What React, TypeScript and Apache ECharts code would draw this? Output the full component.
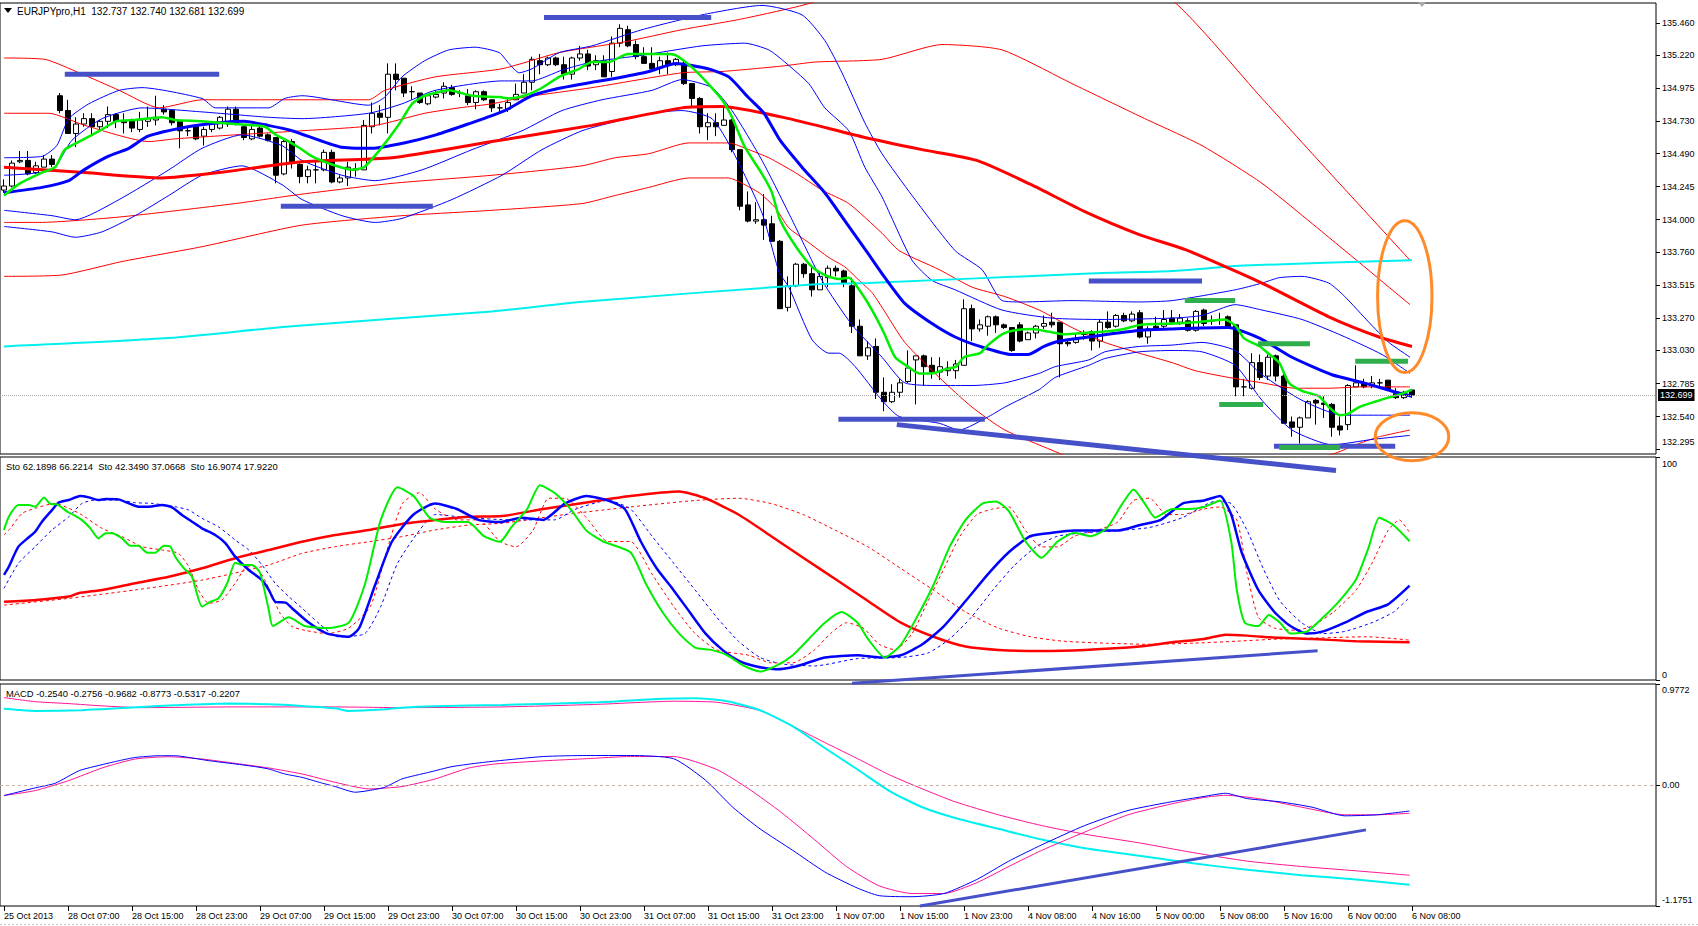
import React, { useEffect, useRef } from 'react';
import * as echarts from 'echarts';

// ---------- axes / labels ----------
const SLOTS = 207;
const dateLabels = ['25 Oct 2013', '28 Oct 07:00', '28 Oct 15:00', '28 Oct 23:00', '29 Oct 07:00', '29 Oct 15:00', '29 Oct 23:00', '30 Oct 07:00', '30 Oct 15:00', '30 Oct 23:00', '31 Oct 07:00', '31 Oct 15:00', '31 Oct 23:00', '1 Nov 07:00', '1 Nov 15:00', '1 Nov 23:00', '4 Nov 08:00', '4 Nov 16:00', '5 Nov 00:00', '5 Nov 08:00', '5 Nov 16:00', '6 Nov 00:00', '6 Nov 08:00'];
const priceTicks = [132.295, 132.54, 132.785, 133.03, 133.27, 133.515, 133.76, 134.0, 134.245, 134.49, 134.73, 134.975, 135.22, 135.46];
const stochTicks = [0, 100];
const macdTicks = [-1.1751, 0, 0.9772];
const bidPrice = 132.699;
const headerText = 'EURJPYpro,H1  132.737 132.740 132.681 132.699';
const stochText = 'Sto 62.1898 66.2214  Sto 42.3490 37.0668  Sto 16.9074 17.9220';
const macdText = 'MACD -0.2540 -0.2756 -0.9682 -0.8773 -0.5317 -0.2207';

// ---------- candles [open, high, low, close] ----------
const ohlc = [
  [134.22, 134.30, 134.20, 134.25], [134.25, 134.44, 134.24, 134.42], [134.43, 134.51, 134.42, 134.44], [134.44, 134.51, 134.33, 134.34],
  [134.35, 134.43, 134.34, 134.40], [134.39, 134.48, 134.39, 134.45], [134.45, 134.48, 134.39, 134.41], [134.92, 134.94, 134.79, 134.81],
  [134.81, 134.89, 134.64, 134.64], [134.64, 134.76, 134.54, 134.71], [134.71, 134.79, 134.69, 134.75], [134.75, 134.79, 134.62, 134.69],
  [134.69, 134.74, 134.66, 134.73], [134.73, 134.84, 134.68, 134.78], [134.78, 134.79, 134.68, 134.73], [134.73, 134.79, 134.64, 134.72],
  [134.74, 134.75, 134.65, 134.68], [134.67, 134.80, 134.65, 134.74], [134.73, 134.84, 134.69, 134.75], [134.74, 134.92, 134.70, 134.76],
  [134.82, 134.85, 134.78, 134.80], [134.81, 134.81, 134.70, 134.72], [134.73, 134.73, 134.53, 134.66], [134.66, 134.69, 134.62, 134.66],
  [134.69, 134.70, 134.59, 134.60], [134.62, 134.69, 134.55, 134.67], [134.67, 134.73, 134.65, 134.72], [134.68, 134.77, 134.67, 134.76],
  [134.71, 134.84, 134.69, 134.82], [134.82, 134.84, 134.70, 134.71], [134.69, 134.70, 134.59, 134.61], [134.60, 134.70, 134.59, 134.67],
  [134.68, 134.69, 134.61, 134.62], [134.63, 134.64, 134.58, 134.59], [134.61, 134.61, 134.27, 134.33], [134.34, 134.59, 134.33, 134.58],
  [134.58, 134.60, 134.38, 134.42], [134.41, 134.43, 134.27, 134.32], [134.32, 134.40, 134.27, 134.37], [134.37, 134.44, 134.27, 134.37],
  [134.37, 134.52, 134.36, 134.50], [134.50, 134.52, 134.27, 134.28], [134.28, 134.33, 134.27, 134.31], [134.31, 134.43, 134.25, 134.39],
  [134.37, 134.42, 134.32, 134.38], [134.37, 134.74, 134.37, 134.70], [134.69, 134.87, 134.64, 134.79], [134.79, 134.85, 134.70, 134.76],
  [134.76, 135.16, 134.64, 135.08], [135.08, 135.16, 134.96, 135.04], [135.05, 135.05, 134.91, 134.94], [134.95, 134.99, 134.89, 134.95],
  [134.94, 134.94, 134.86, 134.87], [134.86, 134.93, 134.85, 134.92], [134.91, 134.96, 134.90, 134.93], [134.94, 135.02, 134.90, 134.99],
  [134.98, 135.00, 134.92, 134.93], [134.94, 134.96, 134.91, 134.94], [134.92, 134.97, 134.85, 134.87], [134.87, 134.96, 134.82, 134.95],
  [134.95, 134.96, 134.88, 134.89], [134.89, 134.89, 134.80, 134.83], [134.83, 134.86, 134.80, 134.83], [134.82, 134.91, 134.80, 134.87],
  [134.89, 135.01, 134.89, 134.93], [134.94, 135.08, 134.94, 135.02], [135.02, 135.21, 134.96, 135.19], [135.18, 135.23, 135.08, 135.15],
  [135.15, 135.21, 135.14, 135.20], [135.20, 135.21, 135.14, 135.15], [135.15, 135.21, 135.04, 135.08], [135.08, 135.21, 135.04, 135.20],
  [135.20, 135.29, 135.18, 135.23], [135.23, 135.26, 135.11, 135.14], [135.15, 135.22, 135.11, 135.18], [135.18, 135.22, 135.06, 135.06],
  [135.10, 135.36, 135.06, 135.31], [135.31, 135.45, 135.28, 135.42], [135.41, 135.44, 135.28, 135.29], [135.30, 135.33, 135.19, 135.21],
  [135.21, 135.28, 135.16, 135.16], [135.16, 135.28, 135.11, 135.12], [135.13, 135.21, 135.08, 135.18], [135.18, 135.24, 135.08, 135.15],
  [135.15, 135.20, 135.14, 135.19], [135.16, 135.18, 135.00, 135.01], [135.01, 135.01, 134.84, 134.90], [134.90, 134.91, 134.64, 134.69],
  [134.69, 134.79, 134.59, 134.72], [134.72, 134.79, 134.62, 134.69], [134.70, 134.83, 134.70, 134.74], [134.74, 134.75, 134.50, 134.52],
  [134.52, 134.52, 134.07, 134.10], [134.11, 134.21, 133.98, 133.99], [133.99, 134.13, 133.97, 134.00], [134.00, 134.19, 133.85, 133.96],
  [133.97, 134.03, 133.84, 133.84], [133.84, 133.85, 133.34, 133.34], [133.35, 133.58, 133.32, 133.51], [133.51, 133.68, 133.50, 133.67],
  [133.67, 133.68, 133.57, 133.60], [133.60, 133.65, 133.43, 133.48], [133.48, 133.61, 133.48, 133.58], [133.57, 133.66, 133.50, 133.64],
  [133.64, 133.66, 133.58, 133.62], [133.62, 133.63, 133.50, 133.53], [133.51, 133.57, 133.16, 133.21], [133.21, 133.26, 132.99, 132.99],
  [132.99, 133.10, 132.96, 133.05], [133.06, 133.12, 132.67, 132.72], [132.72, 132.83, 132.58, 132.65], [132.65, 132.78, 132.64, 132.72],
  [132.72, 132.82, 132.68, 132.79], [132.80, 133.03, 132.79, 132.90], [132.96, 132.99, 132.63, 132.99], [132.99, 133.00, 132.77, 132.91],
  [132.92, 132.98, 132.82, 132.87], [132.87, 132.98, 132.81, 132.91], [132.88, 132.95, 132.84, 132.90], [132.88, 132.96, 132.82, 132.93],
  [132.92, 133.41, 132.92, 133.34], [133.34, 133.37, 133.10, 133.19], [133.19, 133.26, 133.17, 133.22], [133.21, 133.29, 133.14, 133.28],
  [133.28, 133.29, 133.16, 133.22], [133.22, 133.23, 133.19, 133.20], [133.20, 133.20, 133.02, 133.03], [133.22, 133.24, 133.09, 133.10],
  [133.11, 133.17, 133.11, 133.16], [133.16, 133.22, 133.12, 133.21], [133.21, 133.29, 133.19, 133.23], [133.24, 133.31, 133.20, 133.22],
  [133.24, 133.24, 132.83, 133.08], [133.09, 133.10, 133.06, 133.08], [133.09, 133.16, 133.08, 133.11], [133.15, 133.18, 133.11, 133.15],
  [133.17, 133.18, 133.03, 133.10], [133.10, 133.26, 133.05, 133.24], [133.24, 133.32, 133.19, 133.20], [133.21, 133.30, 133.20, 133.29],
  [133.29, 133.31, 133.24, 133.25], [133.25, 133.32, 133.24, 133.30], [133.31, 133.33, 133.12, 133.13], [133.13, 133.21, 133.08, 133.19],
  [133.21, 133.28, 133.18, 133.19], [133.21, 133.33, 133.19, 133.26], [133.27, 133.33, 133.22, 133.24], [133.24, 133.30, 133.22, 133.27],
  [133.25, 133.27, 133.17, 133.18], [133.18, 133.33, 133.17, 133.32], [133.33, 133.34, 133.21, 133.23], [133.25, 133.29, 133.22, 133.25],
  [133.26, 133.31, 133.22, 133.26], [133.28, 133.29, 133.20, 133.20], [133.22, 133.22, 132.69, 132.76], [132.76, 132.82, 132.69, 132.76],
  [132.75, 133.01, 132.74, 132.94], [132.94, 133.00, 132.81, 132.83], [132.84, 133.00, 132.81, 132.98], [132.99, 133.00, 132.80, 132.84],
  [132.84, 132.86, 132.49, 132.49], [132.50, 132.54, 132.39, 132.46], [132.46, 132.54, 132.34, 132.53], [132.53, 132.66, 132.53, 132.65],
  [132.66, 132.67, 132.48, 132.64], [132.64, 132.69, 132.53, 132.63], [132.63, 132.64, 132.39, 132.46], [132.47, 132.54, 132.40, 132.44],
  [132.48, 132.78, 132.44, 132.77], [132.76, 132.92, 132.76, 132.79], [132.79, 132.82, 132.75, 132.76], [132.77, 132.84, 132.75, 132.79],
  [132.79, 132.82, 132.76, 132.79], [132.81, 132.81, 132.73, 132.74], [132.71, 132.75, 132.67, 132.68], [132.68, 132.73, 132.67, 132.72],
  [132.737, 132.740, 132.681, 132.699],
];

// ---------- price-panel indicator lines [barIndex, price] ----------
const maGreen = [[0,134.18],[2,134.27],[4.75,134.35],[6.4,134.39],[7.6,134.52],[9.75,134.59],[12.25,134.67],[14,134.73],[16.4,134.74],[19.75,134.76],[21.4,134.74],[24.75,134.73],[28.9,134.71],[32.6,134.69],[34,134.63],[35.6,134.58],[37,134.53],[38.5,134.47],[41,134.41],[43.5,134.37],[45,134.39],[47,134.52],[49.4,134.71],[51,134.86],[52.6,134.92],[55.6,134.96],[58.5,134.92],[62,134.91],[63,134.90],[65,134.92],[67,134.97],[69.4,135.06],[71.9,135.12],[73.5,135.17],[75.6,135.17],[78,135.23],[82.6,135.23],[84,135.22],[86,135.13],[88,135.01],[89.75,134.89],[91,134.76],[92.6,134.54],[94.75,134.34],[96,134.20],[97,134.00],[99,133.80],[101,133.65],[102.6,133.59],[104.4,133.56],[105.6,133.57],[106.9,133.48],[108.5,133.33],[110,133.16],[111.4,132.98],[113,132.91],[114.4,132.86],[116,132.86],[117.6,132.89],[119,132.91],[120,132.98],[122,133.01],[123,133.07],[124.75,133.15],[126.4,133.18],[128.5,133.19],[130.6,133.17],[132.6,133.15],[135,133.16],[137.6,133.17],[140,133.19],[142,133.22],[146,133.23],[149,133.24],[152.6,133.26],[154,133.21],[155,133.12],[157,133.06],[158,133.01],[159.4,132.94],[160.6,132.79],[162.25,132.73],[164.4,132.69],[165.6,132.61],[167,132.55],[168,132.56],[169.4,132.61],[171.4,132.65],[173,132.68],[174.75,132.71],[176,132.74]];
const maBlue = [[0,134.20],[4.75,134.24],[8.1,134.29],[10,134.37],[13,134.47],[15.6,134.53],[18,134.62],[23,134.69],[27,134.72],[30,134.73],[33,134.70],[36,134.66],[42,134.54],[46,134.53],[50,134.57],[54,134.63],[58,134.71],[62.6,134.81],[66,134.92],[69,134.97],[73.5,135.02],[75.6,135.04],[80.6,135.10],[84,135.16],[88,135.12],[90.6,135.06],[93,134.91],[95,134.79],[97,134.59],[99.75,134.39],[102.6,134.20],[105.6,133.95],[108,133.75],[110,133.58],[112.6,133.38],[116,133.23],[118.9,133.13],[122,133.06],[126,133.00],[128,133.00],[130,133.06],[132,133.10],[135.6,133.13],[142,133.18],[146,133.19],[153,133.20],[157,133.12],[161,132.98],[166,132.85],[170,132.79],[174,132.72],[176,132.69]];
const maRed = [[0,134.39],[10.1,134.35],[19.75,134.31],[26.9,134.35],[37.25,134.43],[48.5,134.46],[61,134.58],[73.5,134.70],[84.75,134.83],[89.75,134.84],[98.1,134.75],[107.6,134.61],[114.75,134.52],[121.6,134.44],[128.4,134.26],[135.1,134.06],[141.9,133.89],[147.6,133.78],[157.25,133.53],[165.6,133.28],[171.9,133.13],[176,133.06]];
const maCyan = [[0,133.06],[20,133.12],[36,133.21],[61,133.32],[72,133.39],[101,133.52],[108,133.53],[135,133.60],[146,133.62],[155,133.66],[176,133.70]];
const redUp2 = [[0,135.20],[5.1,135.19],[9.4,135.09],[14.4,134.96],[19.4,134.83],[24.75,134.89],[45.6,134.89],[47.6,134.96],[53.9,135.06],[62.25,135.12],[69.4,135.24],[77.6,135.32],[84.75,135.41],[92.25,135.49],[99.75,135.59],[106,135.70],[120,135.95],[135,135.95],[146,135.63],[157.25,134.90],[166,134.33],[175.75,133.70]];
const redUp1 = [[0,134.79],[5.6,134.79],[10.1,134.70],[18.1,134.58],[21.4,134.60],[28.9,134.63],[37.25,134.66],[46.4,134.70],[52.6,134.79],[56.9,134.83],[61,134.86],[65.1,134.91],[73.5,134.98],[84.75,135.09],[89.75,135.10],[97.25,135.14],[101.4,135.17],[109.75,135.19],[117.25,135.30],[124.75,135.26],[133.5,135.01],[142.25,134.76],[149.75,134.55],[157.25,134.27],[166,133.85],[175.75,133.37]];
const redLo1 = [[0,133.98],[4.4,133.98],[14.4,134.02],[28.9,134.12],[37.25,134.19],[48.5,134.27],[61,134.33],[72.25,134.40],[76.4,134.46],[80.6,134.49],[85.6,134.57],[90.6,134.57],[93.1,134.52],[95.6,134.46],[98.9,134.35],[102.25,134.22],[105.6,134.12],[109.75,133.90],[111.9,133.77],[116.9,133.63],[121,133.50],[125.1,133.43],[129.4,133.33],[133.5,133.20],[137.6,133.09],[141.9,133.01],[146,132.94],[148.9,132.88],[153.1,132.83],[157.25,132.79],[161.4,132.75],[165.6,132.75],[169.75,132.76],[175.75,132.76]];
const redLo2 = [[0,133.58],[7.25,133.59],[14.75,133.69],[24.75,133.80],[37.25,133.96],[49.75,134.03],[61,134.07],[72.25,134.12],[76.4,134.18],[80.6,134.24],[85.6,134.31],[90.6,134.31],[92.25,134.27],[94.4,134.20],[96.4,134.09],[98.1,133.94],[100.6,133.83],[103.1,133.72],[105.1,133.65],[106.9,133.55],[108.5,133.46],[109.75,133.35],[112.6,133.09],[116.9,132.83],[121,132.61],[125.1,132.44],[131,132.29],[137.25,132.14],[146,132.00],[157.25,132.16],[166,132.26],[169.4,132.34],[171.9,132.39],[175.75,132.44]];
const blueUp2 = [[0,134.46],[4.75,134.47],[6.6,134.55],[8.1,134.75],[10.6,134.86],[14.4,134.96],[17.25,134.98],[24.75,134.90],[26.4,134.83],[33.1,134.83],[35.1,134.90],[37.25,134.92],[45.6,134.85],[47.6,134.91],[49.75,135.06],[52.6,135.18],[55.6,135.26],[58.9,135.28],[61.9,135.24],[63.1,135.16],[64.4,135.09],[66,135.12],[69.4,135.24],[73.5,135.29],[79.75,135.41],[87.25,135.52],[94.75,135.59],[99.75,135.52],[102.6,135.33],[104.75,135.09],[107.6,134.72],[109.75,134.49],[113.5,134.18],[118.9,133.77],[122.25,133.63],[124.75,133.40],[127.25,133.39],[133.5,133.40],[141.9,133.39],[146,133.40],[153.9,133.48],[157.25,133.53],[159.4,133.57],[162.25,133.58],[165.6,133.53],[167.6,133.43],[170.6,133.24],[173.1,133.09],[175.75,132.98]];
const blueUp1 = [[0,134.33],[6,134.37],[8.5,134.59],[12.25,134.75],[17.25,134.83],[24.75,134.80],[33.1,134.76],[37.25,134.75],[45.6,134.79],[49.75,134.86],[53.9,134.96],[62.25,135.03],[66,135.03],[69.75,135.11],[73.5,135.17],[79.75,135.22],[87.25,135.29],[92.6,135.31],[95.6,135.26],[97.6,135.17],[100.6,135.01],[102.6,134.83],[105.6,134.66],[107.6,134.39],[109.75,134.17],[113.5,133.70],[116,133.55],[118.9,133.48],[124.75,133.33],[131,133.27],[137.25,133.26],[146,133.27],[149.75,133.29],[153.9,133.37],[157.25,133.33],[162.25,133.26],[167.25,133.14],[172.25,133.00],[175.75,132.86]];
const blueLo1 = [[0,134.07],[6,134.03],[8.9,134.00],[14.4,134.15],[20.6,134.37],[24.75,134.53],[29.75,134.63],[34.75,134.55],[37.25,134.44],[42.25,134.33],[46.4,134.29],[52.25,134.37],[58.5,134.52],[64.75,134.66],[69.75,134.81],[74.75,134.89],[81,134.96],[84.75,135.04],[88.5,134.98],[91,134.81],[94.75,134.44],[98.5,134.00],[102.25,133.55],[106,133.22],[109.75,132.98],[112.6,132.79],[116.9,132.77],[121,132.77],[125.1,132.79],[129.4,132.86],[131.4,132.91],[135.6,132.96],[137.6,133.02],[141.9,133.06],[146,133.07],[149.75,133.09],[153.9,133.03],[157.25,132.85],[162.25,132.66],[167.25,132.55],[172.25,132.55],[175.75,132.55]];
const blueLo2 = [[0,133.95],[6,133.91],[8.9,133.87],[12.25,133.91],[16.4,134.03],[20.6,134.18],[24.75,134.33],[29.75,134.40],[34.75,134.26],[37.25,134.15],[42.25,134.03],[46.4,133.98],[49.75,134.01],[56,134.15],[62.25,134.33],[67.25,134.52],[72.25,134.66],[77.25,134.74],[82.25,134.80],[84.75,134.81],[88.5,134.75],[91,134.52],[94.75,134.05],[96.9,133.61],[98.1,133.50],[101,133.11],[103.1,133.01],[104.4,133.01],[106.4,132.91],[109.75,132.66],[111.9,132.54],[116.9,132.49],[119.4,132.44],[123.1,132.54],[125.1,132.61],[129.4,132.74],[131.4,132.83],[135.6,132.92],[137.6,132.97],[141.9,133.02],[146,133.03],[149.75,133.02],[153.9,132.92],[157.25,132.66],[161,132.44],[166,132.33],[171,132.37],[175.75,132.40]];

// ---------- stochastic panel [barIndex, value] ----------
const stoGreen = [[0,67.3],[0.6,73.2],[1.8,78.5],[3.1,78.5],[3.9,77.7],[5,81.8],[5.8,78.9],[6.6,78.8],[7.9,75.5],[8.7,74],[9.75,71.7],[10.8,68],[11.8,63.5],[12.7,65.8],[13.5,65.8],[14.75,63.5],[15.8,60.2],[16.8,60.2],[17.9,57.1],[18.9,57.1],[20,60.2],[20.8,59.8],[21.4,55.3],[22.5,50.1],[23.5,46.3],[24.75,32.9],[25.8,35.1],[26.8,36.6],[27.9,43.4],[28.9,52.6],[29.75,51.6],[31,51.6],[32,48.1],[33.1,31.4],[33.6,24.2],[35.6,28.1],[37.6,24.2],[40.4,23.3],[43.1,25.7],[45.1,42.7],[47.1,71.8],[49.2,86.4],[51.2,82.5],[53.2,72.8],[55.2,70.8],[58,70.8],[60,64.5],[62,62],[63.4,68.4],[65.4,76.7],[67,87.3],[68.8,84],[70.8,76.7],[72.8,67],[74.9,62.1],[78.3,57.3],[80.3,42.7],[82.3,30.5],[84.4,20.8],[86.4,14.5],[88.4,13.5],[90.4,11.1],[92.5,6.3],[94.5,3.8],[96.5,6.3],[98.6,11.1],[100.6,18.4],[102.6,25.7],[104.7,30.5],[106.7,25.7],[108,18.4],[110.1,10.1],[112.1,15.8],[114.1,28.1],[116.2,42.7],[118.2,59.7],[120.2,71.8],[122.3,79.1],[124,80.1],[125.6,75.7],[127.7,62.1],[129.7,54.8],[131.7,62.1],[133.8,66],[135.8,64.5],[137.8,67.9],[139.8,79.1],[141.2,85.4],[142.6,79.1],[143.9,72.8],[146,76.7],[148,76.7],[150,77.6],[152,80.5],[153.4,62.1],[154.1,40.3],[155.1,25.7],[156.8,24.2],[158.1,29.1],[159.5,25.7],[160.8,20.8],[162.9,21.8],[164.9,28.1],[166.9,35.4],[169,45.1],[170.6,59.7],[171.9,72.8],[173.7,69.4],[175.7,62.2]];
const stoGreenSig = [[0,65],[0.8,68],[2.25,74.7],[3.9,77],[6.4,79.2],[8.1,77],[9.75,74],[12.25,68],[14.75,64.3],[17.25,59.8],[19.75,58.3],[21.8,56.8],[23.1,50.8],[24.3,40.4],[25.6,34.4],[27.25,35.9],[28.9,43.4],[30.4,50.8],[31.4,50.8],[32.7,44.2],[34.5,30],[36,24],[37.6,22.3],[40.4,20.8],[43.1,23.3],[45.8,33],[47.8,57.3],[49.8,79.1],[51.9,84],[53.9,76.7],[56.6,71.8],[59.3,71.8],[62,62.1],[64,59.7],[66.1,67],[68.1,81.5],[70.1,81.5],[72.8,72.8],[75.5,62.1],[78.3,62.1],[81,47.5],[83.7,33],[86.4,20.8],[89.1,13.5],[93.1,11.1],[95.9,7.7],[98.6,7.7],[101.3,13.5],[103.3,20.8],[105.3,25.7],[107.4,23.3],[109.4,16],[111.4,13.5],[113.5,20.8],[115.5,35.4],[117.5,50],[119.5,64.5],[121.6,74.2],[123.6,76.7],[125.6,77.6],[127.7,67],[129.7,59.7],[131.7,59.7],[133.8,64.5],[136.5,67],[139.2,70.8],[141.2,80.5],[143.2,81.5],[145.3,74.2],[147.3,74.2],[150,76.7],[152,77.6],[154.1,71.8],[155.4,47.5],[156.8,28.1],[158.8,23.3],[161.5,22.3],[163.5,24.2],[166.2,30.5],[169,40.3],[171,52.4],[173,67],[174.4,71.8],[175.7,66.2]];
const stoBlue = [[0,47.1],[0.6,50.8],[1.8,59.8],[3.1,64],[3.9,66.5],[4.75,71],[6,76.2],[6.8,79.5],[8.1,80.7],[9.5,82.5],[10.6,81.9],[11.8,80.7],[12.7,81.2],[14.3,81],[15.6,79.2],[16.8,77.7],[18.1,77.7],[19.75,78.5],[21,77.4],[22.25,74],[23.5,71],[24.75,68],[26.4,65],[27.7,61.3],[28.9,55.3],[30.6,49.3],[32.25,44.8],[33.1,40.4],[33.9,35.1],[35.2,34.7],[36,32.2],[38,26],[40.4,20.8],[43.1,19.4],[44.4,23.3],[46.4,42.7],[48.5,62.1],[51.2,74.2],[53.9,79.1],[56.6,76.7],[59.3,71.8],[62,70.8],[64.7,72.8],[67.4,71.8],[70.1,79.1],[72.8,82.5],[75.5,80.5],[77.6,76.7],[79.6,62.1],[81.6,50],[83.7,40.3],[85.7,30.5],[87.7,20.8],[89.8,13.5],[91.8,8.7],[93.8,6.3],[96.5,4.8],[99.2,6.3],[102.6,10.1],[106.7,11.1],[109.4,10.1],[112.1,11.1],[114.8,16],[117.5,24.2],[120.2,35.4],[123,47.5],[125.6,57.3],[128.3,64.5],[131,66],[133.8,67],[136.5,67],[139.2,67],[141.9,69.4],[144.6,71.8],[147.3,79.1],[150,80.5],[152,82.5],[153.4,74.2],[154.7,57.3],[156.8,40.3],[158.8,30.5],[160.8,24.2],[162.9,20.8],[164.9,21.8],[167.6,25.7],[170.3,30.5],[173,33.9],[175.7,42.3]];
const stoBlueSig = [[0,41.1],[1.8,52.3],[3.9,59.8],[6,67.3],[8.1,73.2],[9.75,79.2],[11.4,80.7],[14.3,80.7],[16.4,79.5],[18.5,79.2],[21.4,77.7],[23.1,76.2],[24.75,72.5],[26.8,68.7],[28.9,62.8],[30.6,58.3],[32.25,51.6],[33.9,43.4],[35.6,37.4],[37.25,32.2],[39.5,25],[41.7,19.4],[45.1,20.8],[47.1,33],[49.2,52.4],[51.9,67],[53.9,74.2],[58,72.8],[63.4,71.8],[68.8,71.8],[71.5,76.7],[75.5,80.5],[78.3,76.7],[81,64.5],[83.7,52.4],[86.4,40.3],[89.1,28.1],[91.8,17.4],[94.5,10.1],[97.2,7.2],[101.3,6.3],[106.7,9.6],[112.1,10.1],[115.5,12.1],[118.2,18.4],[120.9,28.1],[123.6,40.3],[126.3,51.4],[129,59.7],[131.7,64.5],[135.1,66],[139.2,67],[143.2,68.4],[147.3,72.8],[151.4,80.1],[153.4,79.1],[155.4,67],[157.4,50],[159.5,35.4],[162.2,25.7],[164.9,20.8],[167.6,21.8],[171,25.7],[173.7,30.5],[175.7,37.1]];
const stoRed = [[0,35.1],[4,35.9],[8.1,37.4],[9.3,38.9],[12.25,40.4],[16.4,43.4],[20.6,46.3],[24.75,50.1],[28.9,54.6],[33.1,58.3],[37.25,62],[41.4,65],[45.6,67.3],[49.75,70],[53.9,71.7],[58.1,73.2],[62.25,73.5],[67.4,76.7],[72.8,79.6],[78.3,82.5],[84.4,84.5],[87.7,81.5],[91.8,74.2],[95.9,64.5],[99.9,54.8],[104,45.1],[108,35.4],[112.1,25.7],[116.2,19.4],[120.2,15],[124.3,13.5],[129.7,13],[135.1,13.5],[141.9,15],[146,16.9],[150,18.4],[152.7,20.3],[155.4,19.9],[159.5,18.9],[163.5,18.4],[169,17.4],[175.7,16.9]];
const stoRedSig = [[0,33.6],[8.1,36.6],[16.4,40.4],[24.75,44.8],[33.1,51.6],[37.25,56.8],[41.4,59.8],[45.6,62],[49.75,64.3],[53.9,67.3],[58.1,69.5],[62.25,70.3],[70.1,74.2],[78.3,77.6],[86.4,80.5],[91.8,81.5],[95.9,79.1],[99.9,74.2],[104,67],[108,59.7],[112.1,50],[116.2,40.3],[120.2,30.5],[124.3,23.3],[128.3,19.4],[132.4,17.4],[137.8,16.5],[143.2,16],[148.6,16.5],[154.1,17.4],[159.5,18.4],[164.9,18.9],[170.3,19.4],[175.7,17.9]];

// ---------- MACD panel [barIndex, value] ----------
const macdCyan = [[0,0.738],[1.8,0.726],[3.9,0.716],[9.75,0.723],[12.25,0.733],[17.25,0.755],[21.4,0.771],[28.1,0.787],[33.1,0.781],[37.25,0.765],[41.4,0.742],[43.1,0.716],[47.25,0.729],[49.75,0.748],[53.9,0.762],[62.25,0.774],[74.2,0.80],[81,0.83],[86.4,0.84],[90.4,0.81],[94.5,0.723],[98.6,0.567],[102.6,0.357],[106.7,0.148],[110.7,-0.061],[114.8,-0.218],[118.9,-0.322],[124.3,-0.427],[129.7,-0.531],[135.1,-0.615],[141.9,-0.688],[148.6,-0.761],[155.4,-0.824],[162.2,-0.876],[169,-0.918],[175.7,-0.968]];
const macdPink2 = [[0,0.845],[3.9,0.806],[8.1,0.787],[12.25,0.765],[17.25,0.748],[28.9,0.755],[41.4,0.755],[49.75,0.748],[62.25,0.755],[74.2,0.78],[83.7,0.81],[89.1,0.80],[94.5,0.72],[98.6,0.567],[102.6,0.410],[106.7,0.253],[110.7,0.096],[114.8,-0.040],[118.9,-0.165],[124.3,-0.291],[129.7,-0.395],[135.1,-0.479],[141.9,-0.563],[148.6,-0.657],[155.4,-0.740],[162.2,-0.792],[169,-0.834],[175.7,-0.877]];
const macdBlue = [[0,-0.104],[3.9,-0.03],[6.4,0.015],[9.4,0.137],[12.25,0.195],[14.4,0.234],[16.4,0.265],[19.4,0.282],[21.4,0.282],[23.1,0.265],[25.6,0.234],[28.9,0.202],[31.4,0.176],[33.1,0.153],[35.1,0.105],[37.25,0.072],[39.4,0.024],[41.4,-0.017],[43.9,-0.072],[45.6,-0.056],[47.6,-0.024],[49.75,0.057],[53.1,0.121],[56,0.176],[58.9,0.208],[61.4,0.23],[67.4,0.274],[72.8,0.284],[78.3,0.284],[83.7,0.253],[87.7,0.044],[91.1,-0.218],[94.5,-0.427],[98.6,-0.636],[102.6,-0.845],[106.7,-1.002],[109.4,-1.075],[113.5,-1.085],[117.5,-1.054],[121.6,-0.918],[125.6,-0.740],[129.7,-0.583],[135.1,-0.395],[140.5,-0.249],[145.9,-0.165],[150,-0.113],[152.7,-0.082],[155.4,-0.134],[159.5,-0.165],[163.5,-0.217],[167.6,-0.301],[171.6,-0.291],[175.7,-0.254]];
const macdPink = [[0,-0.104],[3.9,-0.056],[8.1,0.041],[12.25,0.163],[16.4,0.25],[20.6,0.272],[24.75,0.25],[28.9,0.208],[33.1,0.163],[37.25,0.105],[41.4,0.024],[45.6,-0.04],[49.75,-0.017],[53.9,0.057],[58.1,0.163],[61.4,0.202],[67.4,0.232],[72.8,0.253],[78.3,0.274],[83.7,0.274],[89.1,0.148],[93.1,-0.040],[97.2,-0.270],[101.3,-0.531],[105.3,-0.792],[109.4,-0.980],[113.5,-1.054],[117.5,-1.054],[121.6,-0.949],[125.6,-0.792],[129.7,-0.636],[135.1,-0.458],[140.5,-0.291],[145.9,-0.186],[150,-0.123],[152.7,-0.102],[156.8,-0.134],[162.2,-0.217],[167.6,-0.291],[171.6,-0.291],[175.7,-0.276]];

// ---------- hand-drawn objects ----------
const blueSegments = [
  [[7.6,135.08],[26.9,135.08]],
  [[67.5,135.50],[88.4,135.50]],
  [[34.6,134.10],[53.6,134.10]],
  [[104.3,132.52],[122.6,132.52]],
  [[111.6,132.48],[166.5,132.14]],
  [[135.6,133.545],[149.75,133.545]],
  [[158.75,132.32],[173.9,132.32]],
];
const greenSegments = [
  [[147.6,133.40],[153.9,133.40]],
  [[156.75,133.08],[163.25,133.08]],
  [[151.9,132.63],[157.4,132.63]],
  [[168.9,132.95],[175.5,132.95]],
  [[159.4,132.31],[167,132.31]],
];
const stochTrend = [[106,-1.5],[164.2,13.1]];
const macdTrend = [[114.5,-1.176],[170.25,-0.437]];
// ellipses: centre bar, centre price, half-width (bars), half-height (price)
const ellipses = [
  { i: 175.1, p: 133.43, di: 3.4, dp: 0.563 },
  { i: 176.0, p: 132.39, di: 4.6, dp: 0.178 },
];

const FONT = 'Liberation Sans';
const cats = Array.from({ length: SLOTS }, (_, k) => String(k));

function line(data: number[][], xi: number, yi: number, color: string, width: number, extra: any = {}) {
  return {
    type: 'line', xAxisIndex: xi, yAxisIndex: yi, data, symbol: 'none', showSymbol: false,
    smooth: 0.2, lineStyle: { color, width, ...(extra.lineStyle || {}) }, silent: true, z: extra.z ?? 3,
    clip: extra.clip ?? true,
  };
}

export default function App() {
  const ref = useRef<HTMLDivElement>(null);
  useEffect(() => {
    const chart = echarts.init(ref.current!, null, { renderer: 'svg' });
    const labelBase = { fontFamily: FONT, fontSize: 9, color: '#000' };
    const grids = [
      { left: 0, right: 42, top: 3, height: 451 },
      { left: 0, right: 42, top: 457, height: 223 },
      { left: 0, right: 42, top: 684, height: 222 },
    ].map((g) => ({ ...g, show: true, borderColor: '#000', borderWidth: 1, backgroundColor: 'transparent' }));
    const hiddenVal = (gi: number) => ({ type: 'value', gridIndex: gi, min: -0.5, max: SLOTS - 0.5, show: false });
    const yCommon = {
      position: 'right', splitLine: { show: false }, axisLine: { show: false, onZero: false },
      axisTick: { show: true, length: 4, lineStyle: { color: '#000' } },
    };
    const rich = {
      up7: { ...labelBase, padding: [14, 0, 0, 0] },
      up6: { ...labelBase, padding: [12, 0, 0, 0] },
      dn5: { ...labelBase, padding: [0, 0, 10, 0] },
      dn6: { ...labelBase, padding: [0, 0, 12, 0] },
      dn8: { ...labelBase, padding: [0, 0, 15, 0] },
    };
    const series: any[] = [];
    series.push({
      type: 'candlestick', xAxisIndex: 0, yAxisIndex: 0, barWidth: 5, silent: true, z: 2,
      data: ohlc.map((r) => [r[0], r[3], r[2], r[1]]),
      itemStyle: { color: '#ffffff', color0: '#000000', borderColor: '#000000', borderColor0: '#000000', borderWidth: 1 },
      markLine: {
        silent: true, symbol: ['none', 'none'], animation: false,
        data: [{ yAxis: bidPrice }],
        lineStyle: { color: '#a8a8a8', type: 'dotted', width: 1 },
        label: { show: true, position: 'end', distance: 2, formatter: bidPrice.toFixed(3), backgroundColor: '#000', color: '#fff', fontFamily: FONT, fontSize: 9, padding: [2, 2, 1, 2] },
      },
    });
    // thin bands
    [redUp2, redUp1, redLo1, redLo2].forEach((d) => series.push(line(d, 1, 0, '#ff0000', 1)));
    [blueUp2, blueUp1, blueLo1, blueLo2].forEach((d) => series.push(line(d, 1, 0, '#0000ff', 1)));
    series.push(line(maCyan, 1, 0, '#00f0f0', 2));
    series.push(line(maRed, 1, 0, '#ff0000', 3));
    series.push(line(maBlue, 1, 0, '#0000ff', 3));
    series.push(line(maGreen, 1, 0, '#00ee00', 2.5));
    blueSegments.forEach((d) => series.push({ ...line(d, 1, 0, '#4650c8', 5, { z: 6, clip: false }), smooth: false }));
    greenSegments.forEach((d) => series.push({ ...line(d, 1, 0, '#2fae4e', 5, { z: 6 }), smooth: false }));
    // stochastic
    series.push(line(stoRedSig, 2, 1, '#ff0000', 1, { lineStyle: { type: [3, 3] } }));
    series.push(line(stoBlueSig, 2, 1, '#0000ff', 1, { lineStyle: { type: [3, 3] } }));
    series.push(line(stoGreenSig, 2, 1, '#ff0000', 1, { lineStyle: { type: [3, 3] } }));
    series.push(line(stoRed, 2, 1, '#ff0000', 2.5));
    series.push(line(stoBlue, 2, 1, '#0000ff', 2.5));
    series.push(line(stoGreen, 2, 1, '#00ee00', 2));
    series.push({ ...line(stochTrend, 2, 1, '#4650c8', 3, { z: 6, clip: false }), smooth: false });
    // MACD
    series.push({
      ...line(macdPink2, 3, 2, '#ff1493', 1),
      markLine: {
        silent: true, symbol: ['none', 'none'], animation: false, label: { show: false },
        data: [{ yAxis: 0 }], lineStyle: { color: '#c8aea4', type: [3, 3], width: 1 },
      },
    });
    series.push(line(macdCyan, 3, 2, '#00f0f0', 2));
    series.push(line(macdPink, 3, 2, '#ff1493', 1));
    series.push(line(macdBlue, 3, 2, '#0000ff', 1));
    series.push({ ...line(macdTrend, 3, 2, '#4650c8', 3, { z: 6, clip: false }), smooth: false });

    const option: any = {
      animation: false,
      backgroundColor: '#ffffff',
      textStyle: { fontFamily: FONT },
      grid: grids,
      xAxis: [
        { type: 'category', gridIndex: 0, data: cats, boundaryGap: true, show: false },
        hiddenVal(0), hiddenVal(1), hiddenVal(2),
        {
          type: 'category', gridIndex: 2, data: cats, boundaryGap: true, position: 'bottom',
          axisLine: { show: false, onZero: false },
          axisTick: { show: true, alignWithLabel: true, length: 5, interval: (idx: number) => idx % 8 === 0 && idx <= 176, lineStyle: { color: '#000' } },
          axisLabel: {
            ...labelBase, margin: 5, align: 'left',
            interval: (idx: number) => idx % 8 === 0 && idx <= 176,
            formatter: (v: string) => dateLabels[Number(v) / 8] ?? '',
          },
        },
      ],
      yAxis: [
        {
          ...yCommon, type: 'value', gridIndex: 0, min: 132.262, max: 135.608,
          axisTick: { ...yCommon.axisTick, customValues: priceTicks },
          axisLabel: { ...labelBase, margin: 6, customValues: priceTicks, rich,
            formatter: (v: number) => (Math.abs(v - 132.295) < 1e-6 ? `{dn8|${v.toFixed(3)}}` : v.toFixed(3)) },
        },
        {
          ...yCommon, type: 'value', gridIndex: 1, min: 0, max: 100,
          axisTick: { ...yCommon.axisTick, customValues: stochTicks },
          axisLabel: { ...labelBase, margin: 6, customValues: stochTicks, rich,
            formatter: (v: number) => (v === 100 ? '{up7|100}' : '{dn5|0}') },
        },
        {
          ...yCommon, type: 'value', gridIndex: 2, min: -1.1751, max: 0.9772,
          axisTick: { ...yCommon.axisTick, customValues: macdTicks },
          axisLabel: { ...labelBase, margin: 6, customValues: macdTicks, rich,
            formatter: (v: number) => (v === 0 ? '0.00' : v > 0 ? `{up6|${v.toFixed(4)}}` : `{dn6|${v.toFixed(4)}}`) },
        },
      ],
      series,
    };
    chart.setOption(option);

    const ref0 = series.indexOf(series.find((s) => s.data === maGreen));
    const ell = ellipses.map((e) => {
      const c = chart.convertToPixel({ seriesIndex: ref0 }, [e.i, e.p]) as number[];
      const c2 = chart.convertToPixel({ seriesIndex: ref0 }, [e.i + e.di, e.p + e.dp]) as number[];
      return {
        type: 'ellipse', silent: true, z: 50,
        shape: { cx: c[0], cy: c[1], rx: Math.abs(c2[0] - c[0]), ry: Math.abs(c2[1] - c[1]) },
        style: { fill: 'none', stroke: '#ff8a2a', lineWidth: 3 },
      };
    });
    const legendStyle = { fontFamily: FONT, fill: '#000', verticalAlign: 'middle' };
    chart.setOption({
      graphic: [
        { type: 'polygon', silent: true, shape: { points: [[4, 8], [12, 8], [8, 13]] }, style: { fill: '#000' } },
        { type: 'polygon', silent: true, shape: { points: [[1418, 2], [1426, 2], [1422, 7]] }, style: { fill: '#a8a8a8' } },
        { type: 'line', silent: true, shape: { x1: 0, y1: 924.5, x2: 1698, y2: 924.5 }, style: { stroke: '#c8c8c8', lineWidth: 1, lineDash: [2, 2] } },
        { type: 'text', silent: true, x: 17, y: 11, style: { text: headerText, ...legendStyle, fontSize: 10 } },
        { type: 'text', silent: true, x: 6, y: 466, style: { text: stochText, ...legendStyle, fontSize: 9.4 } },
        { type: 'text', silent: true, x: 6, y: 693, style: { text: macdText, ...legendStyle, fontSize: 9.4 } },
        ...ell,
      ],
    });
    return () => chart.dispose();
  }, []);
  return <div ref={ref} style={{ position: 'fixed', left: 0, top: 0, width: 1698, height: 926, background: '#fff' }} />;
}
